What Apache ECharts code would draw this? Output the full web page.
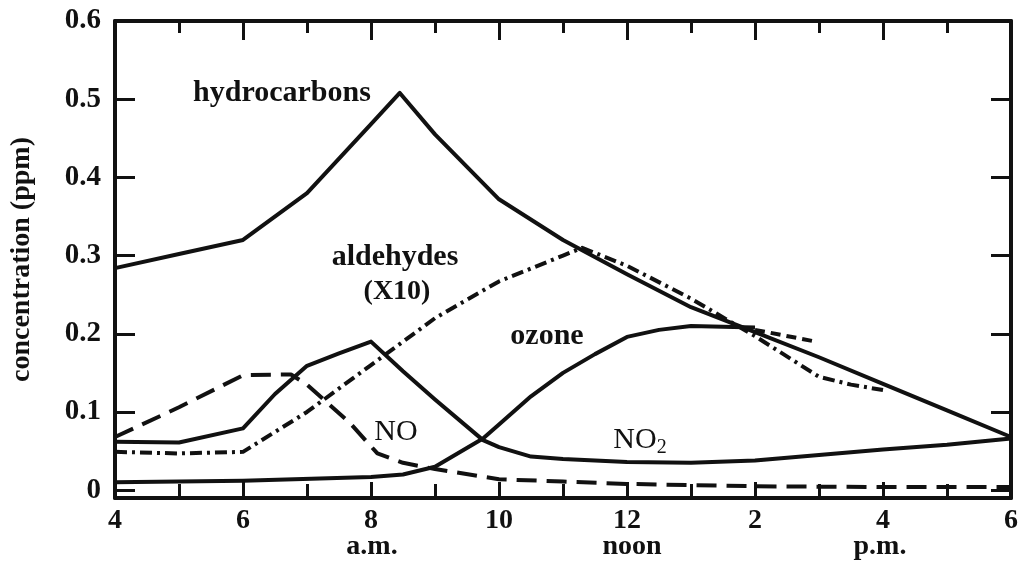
<!DOCTYPE html>
<html>
<head>
<meta charset="utf-8">
<script src="https://cdn.jsdelivr.net/npm/echarts@6/dist/echarts.min.js"></script>
<style>
  html, body { margin: 0; padding: 0; background: #fff; }
  #chart { width: 1023px; height: 573px; }
</style>
</head>
<body>
<div id="chart"></div>
<script>
const FONT = "'Liberation Serif', 'Times New Roman', serif";
const INK = "#111";

// hours of day (4 = 4 a.m., 18 = 6 p.m.)
const hcHours = [4, 5, 6, 7, 8, 8.45, 9, 10, 11, 12, 13, 14, 15, 16, 17, 18];
const hcVals = [0.284, 0.302, 0.32, 0.38, 0.468, 0.508, 0.455, 0.372, 0.32, 0.276, 0.234, 0.202, 0.17, 0.136, 0.102, 0.068];

const aldHours = [4, 5, 6, 7, 8, 9, 10, 11, 11.3, 12, 13, 14, 15, 15.5, 16];
const aldVals = [0.049, 0.047, 0.049, 0.1, 0.16, 0.22, 0.267, 0.3, 0.31, 0.287, 0.245, 0.197, 0.145, 0.135, 0.128];

const ozHours = [4, 6, 8, 8.5, 9, 9.75, 10, 10.5, 11, 11.5, 12, 12.5, 13, 14];
const ozVals = [0.01, 0.012, 0.017, 0.02, 0.03, 0.066, 0.084, 0.12, 0.15, 0.174, 0.196, 0.205, 0.21, 0.208];
const ozTailHours = [14, 14.95];
const ozTailVals = [0.205, 0.19];

const no2Hours = [4, 5, 6, 6.5, 7, 7.5, 8, 8.5, 9, 9.75, 10, 10.5, 11, 12, 13, 14, 15, 16, 17, 18];
const no2Vals = [0.062, 0.061, 0.079, 0.123, 0.159, 0.175, 0.19, 0.152, 0.116, 0.064, 0.055, 0.043, 0.04, 0.036, 0.035, 0.038, 0.045, 0.052, 0.058, 0.066];

const noHours = [4, 5, 6, 6.75, 7, 7.67, 8.1, 8.5, 9, 10, 11, 12, 14, 16, 18];
const noVals = [0.068, 0.106, 0.147, 0.148, 0.135, 0.086, 0.047, 0.035, 0.027, 0.014, 0.011, 0.008, 0.005, 0.004, 0.004];

const xLabelHours = [4, 6, 8, 10, 12, 14, 16, 18];
const yTicks = [0, 0.1, 0.2, 0.3, 0.4, 0.5, 0.6];

const pairs = (xs, ys) => xs.map((x, i) => [x, ys[i]]);

const lineSeries = (name, xs, ys, type) => ({
  name: name,
  type: "line",
  data: pairs(xs, ys),
  showSymbol: false,
  silent: true,
  lineStyle: { color: INK, width: 4, type: type, cap: "butt", join: "round" }
});

const xAxisBase = (pos, major, minor, labels) => ({
  type: "value",
  position: pos,
  min: 4,
  max: 18,
  interval: 2,
  axisLine: { show: true, onZero: false, lineStyle: { color: INK, width: 4 } },
  axisTick: { show: true, inside: true, length: major, lineStyle: { color: INK, width: 3 } },
  minorTick: { show: true, splitNumber: 2, length: minor, lineStyle: { color: INK, width: 3 } },
  splitLine: { show: false },
  axisLabel: labels ? {
    show: true,
    customValues: xLabelHours,
    formatter: v => String(v > 12 ? v - 12 : v),
    color: INK, fontFamily: FONT, fontWeight: "bold", fontSize: 28, margin: 9
  } : { show: false }
});

const yAxisBase = (pos, labels) => ({
  type: "value",
  position: pos,
  min: -0.01,
  max: 0.6,
  axisLine: { show: true, onZero: false, lineStyle: { color: INK, width: 4 } },
  axisTick: { show: true, inside: true, length: 20, customValues: yTicks, lineStyle: { color: INK, width: 3 } },
  splitLine: { show: false },
  axisLabel: labels ? {
    show: true,
    customValues: yTicks,
    formatter: v => (v === 0 ? "0" : v.toFixed(1)),
    color: INK, fontFamily: FONT, fontWeight: "bold", fontSize: 29, margin: 14
  } : { show: false },
  name: labels ? "concentration (ppm)" : "",
  nameLocation: "middle",
  nameRotate: 90,
  nameGap: 79,
  nameTextStyle: { color: INK, fontFamily: FONT, fontWeight: "bold", fontSize: 28 }
});

const txt = (text, x, y, size, bold) => ({
  type: "text",
  x: x, y: y,
  style: {
    text: text,
    fill: INK,
    font: (bold ? "bold " : "") + size + "px " + FONT,
    textAlign: "center",
    textVerticalAlign: "middle"
  }
});

const chart = echarts.init(document.getElementById("chart"));
chart.setOption({
  animation: false,
  backgroundColor: "#fff",
  grid: { left: 115, right: 12, top: 21, bottom: 75, containLabel: false },
  xAxis: [xAxisBase("bottom", 16, 14, true), xAxisBase("top", 19, 12, false)],
  yAxis: [yAxisBase("left", true), yAxisBase("right", false)],
  series: [
    lineSeries("hydrocarbons", hcHours, hcVals, "solid"),
    lineSeries("aldehydes (X10)", aldHours, aldVals, [12, 5, 3, 5]),
    lineSeries("ozone", ozHours, ozVals, "solid"),
    lineSeries("ozone tail", ozTailHours, ozTailVals, [10, 6]),
    lineSeries("NO2", no2Hours, no2Vals, "solid"),
    lineSeries("NO", noHours, noVals, [20, 10])
  ],
  graphic: [
    txt("hydrocarbons", 282, 93, 30, true),
    txt("aldehydes", 395, 257, 30, true),
    txt("(X10)", 397, 292, 28, true),
    txt("ozone", 547, 336, 30, true),
    txt("NO", 396, 432, 30, false),
    {
      type: "text",
      x: 640, y: 440,
      style: {
        text: "{a|NO}{b|2}",
        fill: INK,
        textAlign: "center",
        textVerticalAlign: "middle",
        rich: {
          a: { fontFamily: FONT, fontSize: 30, fill: INK },
          b: { fontFamily: FONT, fontSize: 20, fill: INK, padding: [16, 0, 0, 0] }
        }
      }
    },
    txt("a.m.", 372, 547, 28, true),
    txt("noon", 632, 547, 28, true),
    txt("p.m.", 880, 547, 28, true)
  ]
});
</script>
</body>
</html>
